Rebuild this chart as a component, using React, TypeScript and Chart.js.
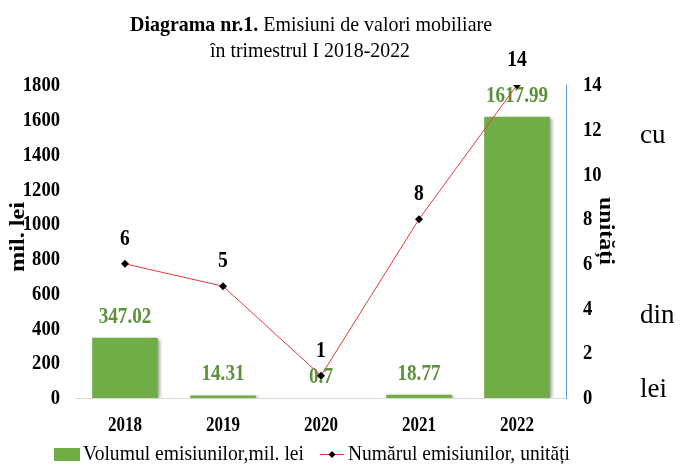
import React, { useEffect, useRef } from "react";
import { Chart, registerables } from "chart.js";

Chart.register(...registerables);

const years = ["2018", "2019", "2020", "2021", "2022"];
const volume = [347.02, 14.31, 0.7, 18.77, 1617.99];
const volumeLabels = ["347.02", "14.31", "0.7", "18.77", "1617.99"];
const counts = [6, 5, 1, 8, 14];
const leftTicks = [0, 200, 400, 600, 800, 1000, 1200, 1400, 1600, 1800];
const rightTicks = [0, 2, 4, 6, 8, 10, 12, 14];

const SERIF = "'Liberation Serif', 'Times New Roman', serif";
const GREEN = "#70AD47";
const LABEL_GREEN = "#5B9238";

function txt(
  ctx: CanvasRenderingContext2D,
  s: string,
  x: number,
  y: number,
  font: string,
  align: CanvasTextAlign,
  sx: number,
  baseline: CanvasTextBaseline = "middle"
) {
  ctx.save();
  ctx.font = font;
  ctx.textAlign = align;
  ctx.textBaseline = baseline;
  ctx.translate(x, y);
  ctx.scale(sx, 1);
  ctx.fillText(s, 0, 0);
  ctx.restore();
}

export default function App() {
  const ref = useRef<HTMLCanvasElement>(null);

  useEffect(() => {
    const canvas = ref.current!;
    const overlay = {
      id: "overlay",
      beforeDatasetDraw(chart: any, args: any) {
        if (args.index === 0) {
          const ctx = chart.ctx;
          ctx.save();
          ctx.shadowColor = "rgba(0,0,0,0.35)";
          ctx.shadowOffsetX = 2;
          ctx.shadowOffsetY = 1;
          ctx.shadowBlur = 3;
        }
      },
      afterDatasetDraw(chart: any, args: any) {
        const ctx = chart.ctx;
        if (args.index === 0) {
          ctx.restore();
          ctx.save();
          ctx.fillStyle = LABEL_GREEN;
          const meta = chart.getDatasetMeta(0);
          meta.data.forEach((el: any, i: number) => {
            txt(ctx, volumeLabels[i], el.x, el.y - 21, `bold 23px ${SERIF}`, "center", 0.83);
          });
          ctx.restore();
        }
        if (args.index === 1) {
          ctx.save();
          ctx.fillStyle = "#000";
          const meta = chart.getDatasetMeta(1);
          meta.data.forEach((el: any, i: number) => {
            txt(ctx, String(counts[i]), el.x, el.y - 25, `bold 23px ${SERIF}`, "center", 0.85);
          });
          ctx.restore();
        }
      },
      afterDraw(chart: any) {
        const ctx = chart.ctx;
        ctx.save();
        ctx.fillStyle = "#000";

        // tick labels
        const xs = chart.scales.x;
        years.forEach((y, i) => {
          txt(ctx, y, xs.getPixelForValue(i), 426, `bold 20px ${SERIF}`, "center", 0.85);
        });
        const ys = chart.scales.y;
        leftTicks.forEach((v) => {
          txt(ctx, String(v), 60, ys.getPixelForValue(v) + 1, `bold 20px ${SERIF}`, "right", 0.93);
        });
        const y1 = chart.scales.y1;
        rightTicks.forEach((v) => {
          txt(ctx, String(v), 583, y1.getPixelForValue(v) + 1, `bold 20px ${SERIF}`, "left", 0.93);
        });

        // Title
        const b = "Diagrama nr.1.";
        const n = " Emisiuni de valori mobiliare";
        ctx.font = `bold 22px ${SERIF}`;
        const wb = ctx.measureText(b).width;
        ctx.font = `22px ${SERIF}`;
        const wn = ctx.measureText(n).width;
        const s1 = 362 / (wb + wn);
        txt(ctx, b, 130, 31, `bold 22px ${SERIF}`, "left", s1, "alphabetic");
        txt(ctx, n, 130 + wb * s1, 31, `22px ${SERIF}`, "left", s1, "alphabetic");
        const l2 = "în trimestrul I 2018-2022";
        ctx.font = `22px ${SERIF}`;
        const w2 = ctx.measureText(l2).width;
        txt(ctx, l2, 210, 57, `22px ${SERIF}`, "left", 200 / w2, "alphabetic");

        // axis titles
        ctx.save();
        ctx.translate(19, 237);
        ctx.rotate(-Math.PI / 2);
        ctx.font = `bold 21px ${SERIF}`;
        const wa = ctx.measureText("mil. lei").width;
        txt(ctx, "mil. lei", 0, 0, `bold 21px ${SERIF}`, "center", 70 / wa);
        ctx.restore();
        ctx.save();
        ctx.translate(605, 231);
        ctx.rotate(Math.PI / 2);
        ctx.font = `bold 21px ${SERIF}`;
        const wu = ctx.measureText("unități").width;
        txt(ctx, "unități", 0, 0, `bold 21px ${SERIF}`, "center", 68 / wu);
        ctx.restore();

        // legend
        ctx.fillStyle = GREEN;
        ctx.fillRect(54, 448, 26, 13);
        ctx.fillStyle = "#000";
        const lt1 = "Volumul emisiunilor,mil. lei";
        const lt2 = "Numărul emisiunilor, unități";
        ctx.font = `22px ${SERIF}`;
        const wl1 = ctx.measureText(lt1).width;
        const wl2 = ctx.measureText(lt2).width;
        txt(ctx, lt1, 83, 460, `22px ${SERIF}`, "left", 221 / wl1, "alphabetic");
        ctx.strokeStyle = "#E8373A";
        ctx.lineWidth = 1;
        ctx.beginPath();
        ctx.moveTo(320, 454.5);
        ctx.lineTo(344, 454.5);
        ctx.stroke();
        ctx.fillStyle = "#000";
        ctx.beginPath();
        ctx.moveTo(332, 451);
        ctx.lineTo(335.5, 454.5);
        ctx.lineTo(332, 458);
        ctx.lineTo(328.5, 454.5);
        ctx.closePath();
        ctx.fill();
        txt(ctx, lt2, 348, 460, `22px ${SERIF}`, "left", 222 / wl2, "alphabetic");

        // side text
        txt(ctx, "cu", 640, 143, `27px ${SERIF}`, "left", 1, "alphabetic");
        txt(ctx, "din", 640, 323, `27px ${SERIF}`, "left", 1, "alphabetic");
        txt(ctx, "lei", 640, 397, `27px ${SERIF}`, "left", 1, "alphabetic");
        ctx.restore();
      },
    };

    const chart = new Chart(canvas, {
      type: "bar",
      data: {
        labels: years,
        datasets: [
          {
            type: "bar",
            data: volume,
            backgroundColor: GREEN,
            barPercentage: 0.67,
            categoryPercentage: 1,
            yAxisID: "y",
            order: 1,
          },
          {
            type: "line",
            data: counts,
            borderColor: "#E8373A",
            borderWidth: 1,
            pointStyle: "rectRot",
            pointRadius: 4,
            pointBackgroundColor: "#000",
            pointBorderColor: "#000",
            pointBorderWidth: 0,
            yAxisID: "y1",
            order: 0,
          } as any,
        ],
      },
      options: {
        responsive: false,
        animation: false,
        layout: { padding: { top: 85, bottom: 0, left: 0, right: 0 } },
        plugins: { legend: { display: false }, tooltip: { enabled: false }, title: { display: false } },
        scales: {
          x: {
            grid: { display: false, drawTicks: false },
            border: { display: true, color: "#D9D9D9", width: 1 },
            ticks: { display: false },
            afterFit(s: any) {
              s.height = 68;
            },
          },
          y: {
            position: "left",
            min: 0,
            max: 1800,
            afterBuildTicks(s: any) {
              s.ticks = leftTicks.map((v) => ({ value: v }));
            },
            grid: { display: false, drawTicks: false },
            border: { display: false },
            ticks: { display: false },
            afterFit(s: any) {
              s.width = 76;
            },
          },
          y1: {
            position: "right",
            min: 0,
            max: 14,
            afterBuildTicks(s: any) {
              s.ticks = rightTicks.map((v) => ({ value: v }));
            },
            grid: { display: false, drawTicks: false },
            border: { display: true, color: "#5B9BD5", width: 1 },
            ticks: { display: false },
            afterFit(s: any) {
              s.width = 117;
            },
          },
        },
      },
      plugins: [overlay],
    } as any);
    return () => chart.destroy();
  }, []);

  return (
    <div style={{ position: "fixed", left: 0, top: 0, width: 683, height: 466, background: "#fff" }}>
      <canvas ref={ref} width={683} height={466} style={{ width: 683, height: 466, display: "block" }} />
    </div>
  );
}
